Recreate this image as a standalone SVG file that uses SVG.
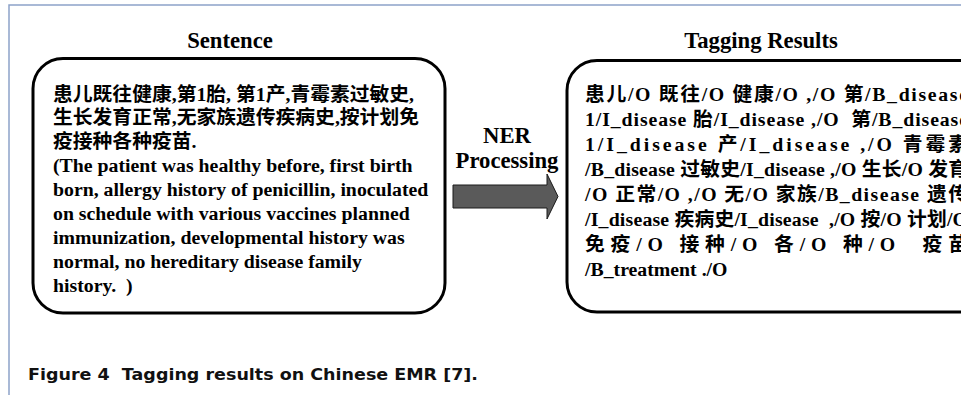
<svg xmlns="http://www.w3.org/2000/svg" width="961" height="395" viewBox="0 0 961 395">
<style>
.frame{stroke:#8da3c9;stroke-width:1.5;fill:none}
.box{fill:#fff;stroke:#000;stroke-width:3}
.title{font-family:"Liberation Serif","Noto Sans CJK SC",serif;font-weight:bold;font-size:22.7px;text-anchor:middle;fill:#000}
.t{font-family:"Liberation Serif","Noto Sans CJK SC",serif;font-weight:bold;font-size:19.8px;white-space:pre;fill:#000}
.cap{font-family:"DejaVu Sans",sans-serif;font-weight:bold;font-size:16.5px;white-space:pre;fill:#111}
.arrow{fill:#5a5a5a;stroke:#1a1a1a;stroke-width:1}
</style>
<rect width="961" height="395" fill="#fff"/>
<path class="frame" d="M9,395 V5 H961"/>
<g id="sentence">
<text class="title" x="230" y="48">Sentence</text>
<rect class="box" x="33" y="58.5" width="412" height="254.5" rx="30"/>
<text class="t" x="53" y="100.5" xml:space="preserve">患儿既往健康,第1胎, 第1产,青霉素过敏史,</text>
<text class="t" x="53" y="124" xml:space="preserve">生长发育正常,无家族遗传疾病史,按计划免</text>
<text class="t" x="53" y="148" xml:space="preserve">疫接种各种疫苗.</text>
<text class="t" x="53" y="172" xml:space="preserve">(The patient was healthy before, first birth</text>
<text class="t" x="53" y="196" xml:space="preserve">born, allergy history of penicillin, inoculated</text>
<text class="t" x="53" y="220" xml:space="preserve">on schedule with various vaccines planned</text>
<text class="t" x="53" y="244" xml:space="preserve">immunization, developmental history was</text>
<text class="t" x="53" y="268" xml:space="preserve">normal, no hereditary disease family</text>
<text class="t" x="53" y="292" xml:space="preserve">history.  )</text>
</g>
<g id="connectors">
<polygon class="arrow" points="453,185 547,185 547,174 558,196.5 547,219 547,208 453,208"/>
<text class="title" x="507" y="143">NER</text>
<text class="title" x="507" y="168">Processing</text>
</g>
<g id="tagging">
<text class="title" x="761" y="48">Tagging Results</text>
<rect class="box" x="567" y="60.5" width="440" height="251.5" rx="30"/>
<text class="t" x="585" y="100.5" textLength="383" lengthAdjust="spacing" xml:space="preserve">患儿/O 既往/O 健康/O ,/O 第/B_disease</text>
<text class="t" x="585" y="125.5" textLength="383" lengthAdjust="spacing" xml:space="preserve">1/I_disease 胎/I_disease ,/O  第/B_disease</text>
<text class="t" x="585" y="150.5" textLength="383" lengthAdjust="spacing" xml:space="preserve">1/I_disease 产/I_disease ,/O 青霉素</text>
<text class="t" x="585" y="175.5" textLength="383" lengthAdjust="spacing" xml:space="preserve">/B_disease 过敏史/I_disease ,/O 生长/O 发育</text>
<text class="t" x="585" y="200.5" textLength="383" lengthAdjust="spacing" xml:space="preserve">/O 正常/O ,/O 无/O 家族/B_disease 遗传</text>
<text class="t" x="585" y="225.5" textLength="383" lengthAdjust="spacing" xml:space="preserve">/I_disease 疾病史/I_disease  ,/O 按/O 计划/O</text>
<text class="t" x="585" y="250.5" textLength="383" lengthAdjust="spacing" xml:space="preserve">免疫/O 接种/O 各/O 种/O  疫苗</text>
<text class="t" x="585" y="275.5" xml:space="preserve">/B_treatment ./O</text>
</g>
<text id="caption" class="cap" x="28" y="380" textLength="450" lengthAdjust="spacingAndGlyphs" xml:space="preserve">Figure 4  Tagging results on Chinese EMR [7].</text>
</svg>
